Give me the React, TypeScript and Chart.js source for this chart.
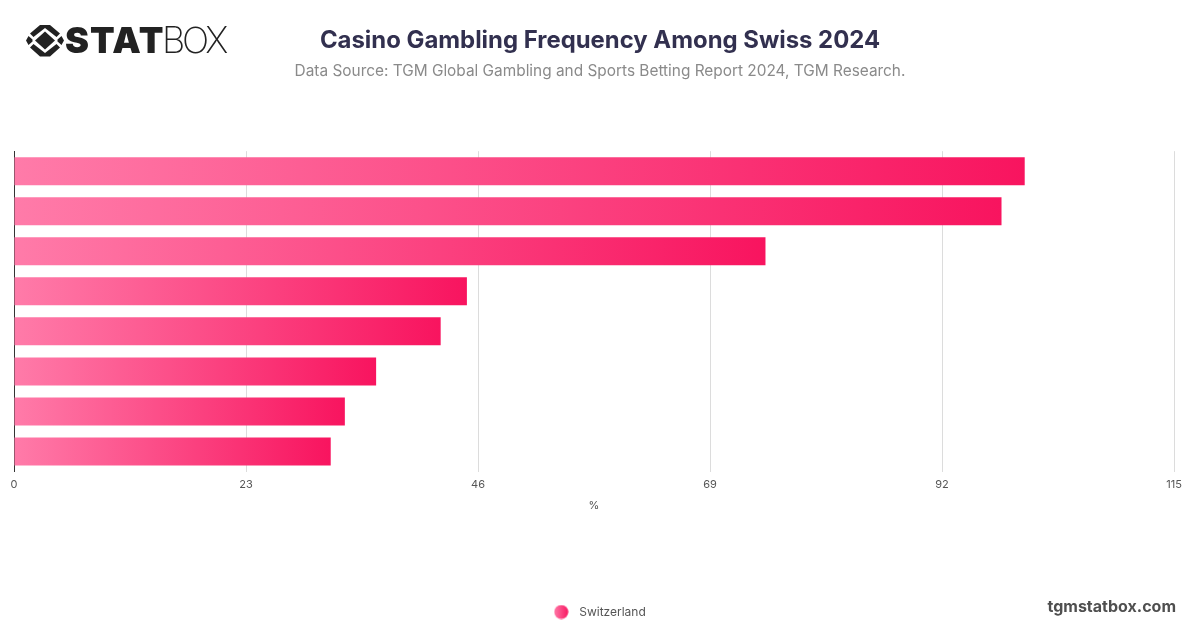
import React, { useEffect, useRef } from "react";
import { Chart, registerables } from "chart.js";

Chart.register(...registerables);

const categories = ["1", "2", "3", "4", "5", "6", "7", "8"];
const seriesName = "Switzerland";
const seriesValues = [100.2, 97.9, 74.5, 44.9, 42.3, 35.9, 32.8, 31.4];
const axisMax = 115;
const axisStep = 23;
const axisTitle = "%";
const titleText = "Casino Gambling Frequency Among Swiss 2024";
const subtitleText = "Data Source: TGM Global Gambling and Sports Betting Report 2024, TGM Research.";
const gradientStart = "#ff7ba9";
const gradientEnd = "#f8145f";
const FONT = "Inter, 'Noto Sans', sans-serif";

function legendDot() {
  const c = document.createElement("canvas");
  c.width = 15;
  c.height = 15;
  const ctx = c.getContext("2d")!;
  const g = ctx.createLinearGradient(0, 0, 15, 0);
  g.addColorStop(0, gradientStart);
  g.addColorStop(1, gradientEnd);
  ctx.fillStyle = g;
  ctx.beginPath();
  ctx.arc(7.5, 7.5, 7, 0, Math.PI * 2);
  ctx.fill();
  return c;
}

const centreBlocks = {
  id: "centreBlocks",
  afterLayout(chart: any) {
    chart.legend.left += 3.5;
    chart.legend.right += 3.5;
    chart.boxes.forEach((b: any) => {
      if (b.position === "top") {
        b.left += 6;
        b.right += 6;
      }
    });
  },
};

export default function App() {
  const ref = useRef<HTMLCanvasElement>(null);
  useEffect(() => {
    const canvas = ref.current!;
    const dot = legendDot();
    const chart = new Chart(canvas, {
      type: "bar",
      plugins: [centreBlocks],
      data: {
        labels: categories,
        datasets: [
          {
            label: seriesName,
            data: seriesValues,
            categoryPercentage: 0.7,
            barPercentage: 1,
            backgroundColor: (c: any) => {
              const ch = c.chart;
              const x = ch.scales.x;
              if (!x || c.dataIndex === undefined) return gradientEnd;
              const x0 = x.getPixelForValue(0);
              const x1 = x.getPixelForValue(seriesValues[c.dataIndex]);
              const g = ch.ctx.createLinearGradient(x0, 0, x1, 0);
              g.addColorStop(0, gradientStart);
              g.addColorStop(1, gradientEnd);
              return g;
            },
          },
        ],
      },
      options: {
        indexAxis: "y",
        animation: false,
        responsive: false,
        devicePixelRatio: 1,
        layout: { padding: { left: 14, right: 26, top: 0, bottom: 0 } },
        scales: {
          x: {
            min: 0,
            max: axisMax,
            ticks: { stepSize: axisStep, color: "#555", font: { family: FONT, size: 11 }, padding: 7 },
            grid: { color: "#dcdcdc", lineWidth: 1, drawTicks: false },
            border: { display: false },
            title: {
              display: true,
              text: axisTitle,
              color: "#555",
              font: { family: FONT, size: 11 },
              padding: { top: 8, bottom: 83 },
            },
            afterFit: (s: any) => {
              s.height = 124;
            },
          },
          y: {
            ticks: { display: false },
            grid: { display: false, drawTicks: false },
            border: { display: true, color: "#333", width: 1 },
          },
        },
        plugins: {
          title: {
            display: true,
            text: titleText,
            color: "#32304f",
            font: { family: FONT, size: 23.9, weight: "700" },
            padding: { top: 26, bottom: 0 },
          },
          subtitle: {
            display: true,
            text: subtitleText,
            color: "#8a8a8a",
            font: { family: FONT, size: 15.4, weight: "400" },
            padding: { top: 7.5, bottom: 70.5 },
          },
          tooltip: { enabled: false },
          legend: {
            display: true,
            position: "bottom",
            labels: {
              usePointStyle: true,
              pointStyleWidth: 24,
              boxHeight: 12,
              padding: 10.5,
              color: "#555",
              font: { family: FONT, size: 12 },
              generateLabels: () => [
                {
                  text: seriesName,
                  fillStyle: gradientEnd,
                  strokeStyle: gradientEnd,
                  lineWidth: 0,
                  pointStyle: dot,
                  datasetIndex: 0,
                  fontColor: "#555",
                },
              ],
            },
          },
        },
      },
    } as any);
    return () => chart.destroy();
  }, []);

  return (
    <div style={{ position: "fixed", left: 0, top: 0, width: 1200, height: 628, background: "#fff", overflow: "hidden" }}>
      <canvas ref={ref} width={1200} height={628} style={{ display: "block", width: 1200, height: 628 }} />
      <svg width={40} height={34} viewBox="0 0 40 34" style={{ position: "absolute", left: 25, top: 24 }}>
        <path d="M20 7.5 L30 16.5 L20 25.5 L10 16.5 Z" fill="#222" />
        <path d="M15 1 L25 1 L35 9.5 L31.5 13 L20 4 L8.5 13 L5 9.5 Z" fill="#222" />
        <path d="M1 16.5 L3.5 12 L7.5 15.5 L7.5 17.5 L3.5 21 Z M39 16.5 L36.5 12 L32.5 15.5 L32.5 17.5 L36.5 21 Z" fill="#222" />
        <path d="M5 23.5 L8.5 20 L20 29 L31.5 20 L35 23.5 L25 32.5 L15 32.5 Z" fill="#222" />
      </svg>
      <div style={{ position: "absolute", left: 65, top: 18, fontFamily: FONT, fontSize: 36, lineHeight: "44px", color: "#222", whiteSpace: "nowrap", fontWeight: 900, letterSpacing: 1 }}>
        STAT
      </div>
      <div style={{ position: "absolute", left: 162, top: 18, fontFamily: FONT, fontSize: 36, lineHeight: "44px", color: "#222", whiteSpace: "nowrap", fontWeight: 200, letterSpacing: -3.2 }}>
        BOX
      </div>
      <div style={{ position: "absolute", right: 24, top: 596, fontFamily: FONT, fontWeight: 700, fontSize: 16, lineHeight: "20px", color: "#4f4f4f", whiteSpace: "nowrap" }}>
        tgmstatbox.com
      </div>
    </div>
  );
}
